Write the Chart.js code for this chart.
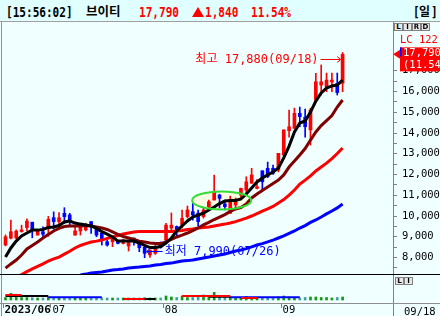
<!DOCTYPE html>
<html lang="ko">
<head>
<meta charset="UTF-8">
<meta name="viewport" content="width=device-width, initial-scale=1.0">
<title>브이티 일봉</title>
<script src="https://cdn.jsdelivr.net/npm/chart.js"></script>
<style>
  html, body { margin: 0; padding: 0; background: #f0ffff; overflow: hidden; }
  #wrap { position: relative; width: 440px; height: 316px; overflow: hidden; background: #f0ffff; }
  #head { position: absolute; left: 0; top: 0; width: 440px; height: 21px; background: #e0ffff; border-bottom: 1px solid #a0a0a0; }
  .mono { position: absolute; top: 4px; font: bold 14px 'DejaVu Sans Mono', monospace; line-height: 16px; transform: scaleX(0.79); transform-origin: 0 0; white-space: nowrap; color: #000; }
  .kr { position: absolute; top: 3px; font: bold 12.5px 'Noto Sans CJK KR', sans-serif; line-height: 16px; white-space: nowrap; color: #000; }
  .red { color: #ff0000; }
  #tri { position: absolute; left: 192px; top: 7px; width: 0; height: 0; border-left: 6px solid transparent; border-right: 6px solid transparent; border-bottom: 10px solid #ff0000; }
  canvas { position: absolute; left: 0; }
  .ln { position: absolute; }
  .btn { position: absolute; width: 7px; height: 6px; border: 1px solid #808080; background: #e8e8e8; font: bold 7px 'DejaVu Sans', sans-serif; line-height: 6px; text-align: center; color: #000; }
  .lbl { position: absolute; font: 10.5px 'DejaVu Sans Mono', monospace; line-height: 12px; white-space: nowrap; }
</style>
</head>
<body>
<div id="wrap">
  <div id="head">
    <span class="mono" style="left:6px" id="hClock"></span>
    <span class="kr" style="left:86px" id="hName"></span>
    <span class="mono red" style="left:139px" id="hPrice"></span>
    <div id="tri"></div>
    <span class="mono red" style="left:205px" id="hChg"></span>
    <span class="mono red" style="left:251px" id="hPct"></span>
    <span class="mono" style="left:413px">[</span>
    <span class="kr" style="left:419px;font-size:12px">일</span>
    <span class="mono" style="left:431px">]</span>
  </div>
  <canvas id="price" width="440" height="252" style="top:22px"></canvas>
  <canvas id="vol" width="440" height="42" style="top:274px"></canvas>
  <div class="ln" style="left:1px;top:22px;width:1px;height:294px;background:#909090"></div>
  <div class="ln" style="left:393px;top:22px;width:1px;height:294px;background:#808080"></div>
  <div class="ln" style="left:0;top:274px;width:440px;height:1px;background:#000"></div>
  <div class="ln" style="left:0;top:303px;width:440px;height:1px;background:#909090"></div>
  <div class="btn" style="left:394px;top:23px">L</div>
  <div class="btn" style="left:403px;top:23px">I</div>
  <div class="btn" style="left:412px;top:23px">R</div>
  <div class="btn" style="left:421px;top:23px">D</div>
  <div class="lbl" style="left:400px;top:33px;color:#ff0000">LC 122,</div>
  <div class="btn" style="left:395px;top:277px">L</div>
  <div class="btn" style="left:404px;top:277px">I</div>
  <div class="lbl" style="left:404px;top:305px" id="lastDate"></div>
</div>

<script>
  const clockText = '[15:56:02]';
  const stockName = '브이티';
  const year = '2023';

  const dates = ['06/20','06/21','06/22','06/23','06/26','06/27','06/28','06/29','06/30',
    '07/03','07/04','07/05','07/06','07/07','07/10','07/11','07/12','07/13','07/14','07/17','07/18',
    '07/19','07/20','07/21','07/24','07/25','07/26','07/27','07/28','07/31',
    '08/01','08/02','08/03','08/04','08/07','08/08','08/09','08/10','08/11','08/14','08/16','08/17',
    '08/18','08/21','08/22','08/23','08/24','08/25','08/28','08/29','08/30','08/31',
    '09/01','09/04','09/05','09/06','09/07','09/08','09/11','09/12','09/13','09/14','09/15','09/18'];

  const open = [8600,8930,8940,9250,9440,9700,9080,9240,9410,9920,
    9730,10130,10050,9080,9280,9330,9730,9410,9170,8760,
    8760,8790,8680,8550,8930,8680,8490,8120,8200,8700,
    8840,9420,9490,9570,9970,10210,10140,9970,10450,10770,
    11010,10580,10130,10530,11010,11250,11580,11330,12180,12300,
    12300,12220,12940,14110,14230,14950,14760,14150,15590,16310,
    16230,16460,16390,16400];
  const high = [9090,9800,9330,9560,9860,9700,9330,9480,9980,10200,
    10160,10400,10130,9520,9650,9650,9730,9450,9200,8840,
    8960,8800,8880,8740,8950,8680,8600,8360,8650,8750,
    9650,10150,9520,10290,10480,10620,10290,10370,10770,11970,
    11050,10770,10960,10870,11340,11890,12300,11750,12180,12600,
    12460,13020,14150,15100,15200,15250,15150,15200,16880,17280,
    16890,16890,16890,17880];
  const low = [8560,8900,8900,9220,9280,8950,9080,8970,9020,9370,
    9400,9640,9560,9080,9080,9280,9160,9000,8600,8550,
    8520,8650,8650,8310,8600,8280,7990,8000,8150,8450,
    8800,9330,9000,9420,9900,9800,9520,9900,10400,10770,
    10390,10290,10130,10340,10770,11100,11580,11300,11250,11850,
    12010,12130,12900,13800,14220,14300,13800,13420,15590,15830,
    15990,15990,15830,15990];
  const close = [9000,9240,9270,9330,9760,9290,9320,9120,9840,9730,
    9920,9970,9730,9280,9570,9570,9570,9080,8840,8600,
    8930,8680,8840,8720,8760,8470,8200,8360,8520,8500,
    9560,9560,9330,9890,10290,10050,9730,10290,10690,11170,
    10850,10450,10770,10690,11330,11650,11980,11410,11650,11900,
    12060,13020,14150,14300,14950,14790,14300,15110,16470,16470,
    16550,16550,15950,17790];

  // moving average lines
  const maBlack = [8020,8460,8790,9040,9180,9320,9320,9350,9450,9470,
    9540,9710,9760,9660,9610,9570,9520,9400,9250,9130,
    8990,8790,8790,8790,8790,8700,8580,8480,8480,8530,
    8700,8940,9280,9520,9760,9950,10050,10140,10290,10430,
    10600,10720,10750,10750,10820,11060,11350,11640,11830,11980,
    12120,12310,12800,13370,14050,14480,14580,15010,15540,15930,
    16170,16270,16310,16550];
  const maMaroon = [7490,7690,7880,8120,8410,8580,8750,8940,9110,9280,
    9400,9490,9520,9520,9520,9540,9520,9470,9420,9350,
    9230,9110,9010,8940,8870,8790,8750,8700,8670,8670,
    8750,8870,8990,9080,9180,9300,9420,9570,9690,9830,
    9950,10070,10220,10340,10410,10580,10870,11060,11230,11400,
    11570,11730,11980,12360,12650,12940,13250,13660,14050,14360,
    14600,14840,15250,15590];
  const maRed = [6770,6920,7060,7180,7320,7450,7570,7690,7830,7930,
    8020,8160,8300,8460,8580,8670,8750,8790,8840,8920,
    8990,9060,9130,9180,9230,9250,9250,9250,9250,9250,
    9250,9250,9280,9300,9350,9370,9420,9450,9470,9520,
    9570,9610,9660,9730,9810,9900,10000,10120,10240,10340,
    10460,10630,10790,11010,11250,11540,11730,11930,12170,12360,
    12550,12770,13010,13280];
  const maBlue = [null,null,null,null,null,null,null,null,null,null,
    null,null,null,null,7160,7200,7250,7280,7300,7350,
    7400,7420,7450,7490,7520,7540,7570,7590,7640,7660,
    7710,7730,7780,7830,7850,7880,7930,7980,8020,8070,
    8120,8170,8240,8310,8360,8430,8510,8600,8670,8750,
    8840,8940,9040,9160,9280,9420,9540,9690,9810,9950,
    10100,10240,10390,10580];

  const volume = [250,670,300,250,250,230,200,200,300,250,
    200,250,200,200,200,200,200,200,200,200,
    200,200,200,200,200,200,250,200,200,200,
    400,300,250,400,250,250,300,500,250,770,
    300,250,300,200,250,350,250,250,250,200,
    200,300,400,300,250,200,250,300,300,250,
    250,200,250,300];
  const volRed = [500,500,500,500,null,null,null,null,null,null,
    null,null,null,null,null,null,null,null,null,null,
    null,null,100,100,100,100,100,null,null,null,
    null,null,null,400,400,400,400,400,400,400,
    400,400,400,null,200,200,200,200,null,null,
    null,null,null,null,null,null,null,null,null,null,
    null,null,null,null];
  const volBlack = [400,400,400,400,400,400,400,400,400,null,
    null,null,null,null,null,null,null,null,null,null,
    null,null,100,100,100,100,100,100,100,null,
    null,null,null,null,null,null,null,null,330,330,
    330,330,330,null,null,null,null,null,null,null,
    null,null,null,null,null,null,null,null,null,null,
    null,null,null,null];
  const volBlue = [null,null,null,null,null,null,null,null,270,270,
    270,270,270,270,270,270,270,270,270,null,
    null,null,null,null,null,null,null,null,null,null,
    null,null,null,null,null,null,null,null,null,null,
    null,null,270,270,270,270,270,270,270,270,
    270,270,270,270,270,270,null,null,null,null,
    null,null,null,null];

  const priceTicks = [7500,8000,8500,9000,9500,10000,10500,11000,11500,12000,12500,
    13000,13500,14000,14500,15000,15500,16000,16500,17000];

  const N = dates.length;
  const idx = dates.map((_, i) => i);
  const xMin = -0.47, xMax = 72.42;
  const ring = { i: 40.4, v: 10750, rx: 29.5, ry: 9 };
  const monoFont = "'DejaVu Sans Mono', 'Noto Sans CJK KR', monospace";
  const fmt = v => v.toLocaleString('en-US');

  const last = close[N - 1], prev = close[N - 2];
  const chg = last - prev, pct = chg / prev * 100;
  document.getElementById('hClock').textContent = clockText;
  document.getElementById('hName').textContent = stockName;
  document.getElementById('hPrice').textContent = fmt(last);
  document.getElementById('hChg').textContent = fmt(chg);
  document.getElementById('hPct').textContent = pct.toFixed(2) + '%';
  document.getElementById('lastDate').textContent = dates[N - 1];

  const candleColor = idx.map(i => close[i] >= open[i] ? '#ff0000' : '#0000ff');
  const volColor = idx.map(i => close[i] >= open[i] ? '#119911' : '#3f9f9f');
  const pts = arr => idx.map(i => ({ x: i, y: arr[i] }));

  const marks = {
    id: 'marks',
    beforeDatasetsDraw(chart) {
      const { ctx, scales: { x, y } } = chart;
      ctx.save();
      ctx.beginPath();
      ctx.ellipse(x.getPixelForValue(ring.i), y.getPixelForValue(ring.v), ring.rx, ring.ry, 0, 0, Math.PI * 2);
      ctx.fillStyle = '#fcfbe4';
      ctx.fill();
      ctx.restore();
    },
    afterDatasetsDraw(chart) {
      const { ctx, scales: { x, y } } = chart;
      ctx.save();
      ctx.beginPath();
      ctx.ellipse(x.getPixelForValue(ring.i), y.getPixelForValue(ring.v), ring.rx, ring.ry, 0, 0, Math.PI * 2);
      ctx.strokeStyle = '#33dd33';
      ctx.lineWidth = 2;
      ctx.stroke();

      ctx.lineWidth = 1;
      ctx.font = '12px ' + monoFont;
      ctx.textBaseline = 'middle';

      // highest
      const hi = Math.max(...high), hiI = high.indexOf(hi);
      const hx = x.getPixelForValue(hiI), hy = Math.round(y.getPixelForValue(hi) + 6.5) + 0.5;
      ctx.strokeStyle = ctx.fillStyle = '#ff0000';
      ctx.beginPath();
      ctx.moveTo(hx - 22, hy); ctx.lineTo(hx - 2, hy);
      ctx.moveTo(hx - 5.5, hy - 3); ctx.lineTo(hx - 2, hy); ctx.lineTo(hx - 5.5, hy + 3);
      ctx.stroke();
      ctx.textAlign = 'right';
      ctx.fillText('최고 ' + fmt(hi) + '(' + dates[hiI] + ')', hx - 24, hy);

      // lowest
      const lo = Math.min(...low), loI = low.indexOf(lo);
      const lx = x.getPixelForValue(loI), ly = Math.round(y.getPixelForValue(lo) - 6.5) + 0.5;
      ctx.strokeStyle = ctx.fillStyle = '#0000ff';
      ctx.beginPath();
      ctx.moveTo(lx + 2, ly); ctx.lineTo(lx + 18, ly);
      ctx.moveTo(lx + 5.5, ly - 3); ctx.lineTo(lx + 2, ly); ctx.lineTo(lx + 5.5, ly + 3);
      ctx.stroke();
      ctx.textAlign = 'left';
      ctx.fillText('최저 ' + fmt(lo) + '(' + dates[loI] + ')', lx + 20, ly);

      // current price tag on the axis
      const ax = chart.chartArea.right, yc = y.getPixelForValue(last);
      ctx.fillStyle = '#ff0000';
      ctx.fillRect(ax + 7, yc - 7, 40, 24);
      ctx.beginPath();
      ctx.moveTo(ax, yc); ctx.lineTo(ax + 7, yc - 4.5); ctx.lineTo(ax + 7, yc + 4.5);
      ctx.closePath(); ctx.fill();
      ctx.fillStyle = '#0000ff';
      ctx.fillRect(ax + 7, yc - 7, 1.5, 9);
      ctx.fillStyle = '#ffffff';
      ctx.font = '10.5px ' + monoFont;
      ctx.fillText(fmt(last), ax + 10, yc - 1.5);
      ctx.fillText('(' + pct.toFixed(2) + '%', ax + 10, yc + 10.5);
      ctx.restore();
    }
  };

  const lineSet = (arr, color, order) => ({
    type: 'line', data: pts(arr), borderColor: color, borderWidth: 3,
    pointRadius: 0, tension: 0, clip: 0, order
  });

  new Chart(document.getElementById('price'), {
    type: 'bar',
    data: {
      datasets: [
        lineSet(maBlack, '#000000', 0),
        lineSet(maMaroon, '#800000', 1),
        lineSet(maRed, '#ff0000', 2),
        lineSet(maBlue, '#0000ff', 3),
        { type: 'bar', data: idx.map(i => ({ x: i, y: [open[i], close[i]] })), backgroundColor: candleColor,
          barThickness: 3, minBarLength: 1, grouped: false, order: 4 },
        { type: 'bar', data: idx.map(i => ({ x: i, y: [low[i], high[i]] })), backgroundColor: candleColor,
          barThickness: 1, grouped: false, order: 5 }
      ]
    },
    options: {
      responsive: false,
      animation: false,
      layout: { padding: { left: 3, right: 0, top: 0, bottom: 0 } },
      plugins: { legend: { display: false }, tooltip: { enabled: false } },
      scales: {
        x: { type: 'linear', min: xMin, max: xMax, offset: false, grid: { offset: false }, display: false },
        y: {
          position: 'right', min: 7205, max: 19350, beginAtZero: false,
          afterBuildTicks: s => { s.ticks = priceTicks.map(v => ({ value: v })); },
          afterFit: s => { s.width = 47; s.paddingTop = 0; s.paddingBottom = 0; },
          grid: { drawOnChartArea: false, tickLength: 4, tickColor: '#808080' },
          border: { display: false },
          ticks: {
            autoSkip: false, padding: 5, color: '#000',
            font: { family: monoFont, size: 10.5 },
            callback: v => v % 1000 === 0 ? fmt(v) : ''
          }
        }
      }
    },
    plugins: [marks]
  });

  const monthTicks = [{ pos: xMin, label: year + '/' + dates[0].slice(0, 2) }];
  dates.forEach((d, i) => {
    if (i > 0 && d.slice(0, 2) !== dates[i - 1].slice(0, 2)) monthTicks.push({ pos: i - 0.5, label: d.slice(0, 2) });
  });

  const volLine = (arr, color, order) => ({
    type: 'line', data: pts(arr), borderColor: color, borderWidth: 2,
    pointRadius: 0, tension: 0, clip: 0, order
  });

  new Chart(document.getElementById('vol'), {
    type: 'bar',
    data: {
      datasets: [
        volLine(volRed, '#ff0000', 0),
        volLine(volBlack, '#000000', 1),
        volLine(volBlue, '#0000ff', 2),
        { type: 'bar', data: pts(volume), backgroundColor: volColor, barThickness: 2, order: 3 }
      ]
    },
    options: {
      responsive: false,
      animation: false,
      layout: { padding: { left: 3, right: 47, top: 1, bottom: 0 } },
      plugins: { legend: { display: false }, tooltip: { enabled: false } },
      scales: {
        x: {
          type: 'linear', min: xMin, max: xMax, position: 'bottom', offset: false,
          afterBuildTicks: s => { s.ticks = monthTicks.map(t => ({ value: t.pos })); },
          afterFit: s => { s.height = 13; s.paddingLeft = 0; s.paddingRight = 0; },
          grid: { offset: false, drawOnChartArea: false, tickLength: 5, tickColor: '#808080' },
          border: { display: false },
          ticks: {
            autoSkip: false, maxRotation: 0, align: 'start', labelOffset: 1.5, padding: -4, color: '#000',
            font: c => c.index === 0 ? { family: monoFont, size: 11, weight: 'bold' } : { family: monoFont, size: 10.5 },
            callback: (v, i) => monthTicks[i] ? monthTicks[i].label : ''
          }
        },
        y: { display: false, min: -300, max: 2500, beginAtZero: false }
      }
    }
  });
</script>
</body>
</html>
